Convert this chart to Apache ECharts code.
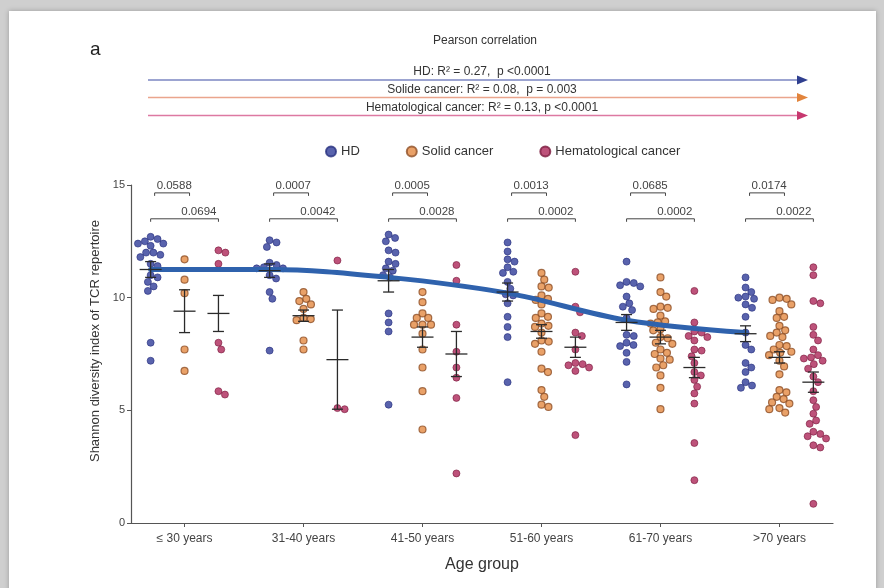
<!DOCTYPE html>
<html><head><meta charset="utf-8">
<script src="https://cdn.jsdelivr.net/npm/echarts@6/dist/echarts.min.js"></script>
<style>
html,body{margin:0;padding:0;background:#cfcfcf;width:884px;height:588px;overflow:hidden;}
#wrap{position:absolute;left:9px;top:11px;width:867px;height:590px;background:#fff;box-shadow:0 0 5px rgba(0,0,0,0.25);}
#chart{position:absolute;left:0;top:0;width:884px;height:588px;}
</style>
</head><body><div id="wrap"></div><div id="chart"></div>
<script>
const categories = ['≤ 30 years','31-40 years','41-50 years','51-60 years','61-70 years','>70 years'];
const seriesNames = ['HD','Solid cancer','Hematological cancer'];

const hdValues = [
 [12.7,12.6,12.5,12.4,12.4,12.3,12.0,12.0,11.9,11.8,11.5,11.4,11.0,10.9,10.7,10.5,10.3,8.0,7.2],
 [12.55,12.45,12.25,11.55,11.45,11.35,11.3,11.3,11.0,10.85,10.25,9.95,7.65],
 [12.8,12.65,12.5,12.1,12.0,11.6,11.5,11.3,11.2,11.0,10.9,9.3,8.9,8.5,5.25],
 [12.45,12.05,11.7,11.6,11.35,11.15,11.1,10.7,10.4,10.15,10.1,9.75,9.15,8.7,8.25,6.25],
 [11.6,10.7,10.65,10.55,10.5,10.05,9.75,9.6,9.45,9.1,8.35,8.3,8.0,7.9,7.85,7.55,7.15,6.15],
 [10.9,10.45,10.25,10.05,10.0,9.95,9.7,9.55,9.15,8.45,7.9,7.7,7.1,6.9,6.7,6.25,6.1,6.0]
];
const solidValues = [
 [11.7,10.8,10.2,7.7,6.75],
 [10.25,9.95,9.85,9.7,9.5,9.1,9.05,9.0,8.1,7.7],
 [10.25,9.8,9.3,9.1,9.1,8.8,8.8,8.8,8.4,7.7,6.9,5.85,4.15],
 [11.1,10.8,10.5,10.45,10.1,9.95,9.9,9.7,9.3,9.15,9.1,8.85,8.75,8.7,8.45,8.1,8.05,7.95,7.6,6.85,6.7,5.9,5.6,5.25,5.15],
 [10.9,10.25,10.05,9.6,9.55,9.5,9.2,8.95,8.9,8.85,8.6,8.55,8.25,8.2,8.0,7.95,7.7,7.55,7.5,7.3,7.25,7.0,6.9,6.55,6.0,5.05],
 [10.0,9.95,9.9,9.7,9.4,9.15,9.1,8.75,8.55,8.45,8.3,8.25,7.9,7.85,7.7,7.6,7.55,7.45,7.2,6.95,6.6,5.9,5.8,5.6,5.5,5.35,5.3,5.1,5.05,4.9]
];
const hemeValues = [
 [12.1,12.0,11.5,8.0,7.7,5.7,5.85],
 [11.65,5.05,5.1],
 [11.45,10.75,8.8,7.6,6.9,6.45,5.55,2.2],
 [11.15,9.6,9.35,8.45,8.3,7.7,7.1,7.05,7.0,6.9,6.75,3.9],
 [10.3,8.9,8.5,8.45,8.3,8.25,8.1,7.7,7.65,7.4,7.1,6.7,6.55,6.35,6.05,5.75,5.3,3.55,1.9],
 [11.35,11.0,9.85,9.75,8.7,8.35,8.1,7.7,7.45,7.35,7.3,7.2,7.05,6.85,6.5,6.25,5.85,5.45,5.15,4.85,4.55,4.4,4.05,3.95,3.85,3.75,3.45,3.35,0.85]
];

const hdMean = [11.25,11.2,10.75,10.25,8.9,8.4];
const hdSem = [0.35,0.3,0.5,0.4,0.35,0.35];
const solidMean = [9.4,9.2,8.25,8.5,8.25,7.35];
const solidSem = [0.95,0.25,0.45,0.3,0.3,0.25];
const hemeMean = [9.3,7.25,7.5,7.8,6.9,6.25];
const hemeSem = [0.8,2.2,1.0,0.45,0.45,0.45];

const hdTrend = [11.25,11.25,10.9,10.2,9.0,8.45];

const pHdSolid = ['0.0588','0.0007','0.0005','0.0013','0.0685','0.0174'];
const pHdHeme = ['0.0694','0.0042','0.0028','0.0002','0.0002','0.0022'];

const corrLabels = ['HD: R² = 0.27,  p <0.0001','Solide cancer: R² = 0.08,  p = 0.003','Hematological cancer: R² = 0.13, p <0.0001'];

// layout
const FONT = '"Liberation Sans", Arial, sans-serif';
const GRID = {left:131, top:185, right:51, bottom:65};
const XMIN = -0.45, XMAX = 5.45, YMIN = 0, YMAX = 15;
const offsets = [-0.285, 0, 0.285];
const pxX = (884 - GRID.left - GRID.right) / (XMAX - XMIN);
const pxY = (588 - GRID.top - GRID.bottom) / (YMAX - YMIN);
const DIAM = 7.3;

function swarm(values, center) {
  const items = values.map(v => ({v})).sort((a,b)=>b.v-a.v);
  const placed = [];
  items.forEach(p => {
    const y = p.v * pxY;
    const cands = [0];
    placed.forEach(q => {
      const dy = Math.abs(q.y - y);
      if (dy < DIAM) {
        const dx = Math.sqrt(DIAM*DIAM - dy*dy);
        cands.push(q.x + dx, q.x - dx);
      }
    });
    cands.sort((a,b)=>Math.abs(a)-Math.abs(b));
    let x = 0;
    for (const c of cands) {
      if (placed.every(q => (q.x-c)*(q.x-c)+(q.y-y)*(q.y-y) >= DIAM*DIAM - 0.01)) { x = c; break; }
    }
    placed.push({x, y});
    p.x = x;
  });
  return items.map(p => [center + p.x / pxX, p.v]);
}

function buildScatter(groups, k) {
  let out = [];
  groups.forEach((vals, i) => { out = out.concat(swarm(vals, i + offsets[k])); });
  return out;
}

const colors = {
  hd: {fill:'#2f3c98', border:'#27307e'},
  solid: {fill:'#e38a42', border:'#8e4f25'},
  heme: {fill:'#ad2759', border:'#7a1a3d'}
};

function errData(means, sems, k) { return means.map((m,i)=>[i+offsets[k], m, sems[i]]); }

function errRender(params, api) {
  const x = api.value(0), m = api.value(1), s = api.value(2);
  const c = api.coord([x, m]), hi = api.coord([x, m+s]), lo = api.coord([x, m-s]);
  const st = {stroke:'#2a2a2a', lineWidth:1.3};
  return {type:'group', children:[
    {type:'line', shape:{x1:c[0], y1:hi[1], x2:c[0], y2:lo[1]}, style:st},
    {type:'line', shape:{x1:c[0]-5.5, y1:hi[1], x2:c[0]+5.5, y2:hi[1]}, style:st},
    {type:'line', shape:{x1:c[0]-5.5, y1:lo[1], x2:c[0]+5.5, y2:lo[1]}, style:st},
    {type:'line', shape:{x1:c[0]-11, y1:c[1], x2:c[0]+11, y2:c[1]}, style:st}
  ]};
}

function bracketRender(params, api) {
  const i = api.value(0);
  const a1 = api.coord([i+offsets[0], 14.65]), b1 = api.coord([i+offsets[1], 14.65]);
  const a2 = api.coord([i+offsets[0], 13.5]), b2 = api.coord([i+offsets[2], 13.5]);
  const st = {stroke:'#444', lineWidth:1, fill:null};
  const ts = {font:'11.5px ' + FONT, fill:'#444', verticalAlign:'bottom'};
  return {type:'group', children:[
    {type:'polyline', shape:{points:[[a1[0]+4,a1[1]+3],[a1[0]+4,a1[1]],[b1[0]+5,b1[1]],[b1[0]+5,b1[1]+3]]}, style:st},
    {type:'polyline', shape:{points:[[a2[0],a2[1]+3],[a2[0],a2[1]],[b2[0],b2[1]],[b2[0],b2[1]+3]]}, style:st},
    {type:'text', style:Object.assign({text:pHdSolid[i], x:a1[0]+6, y:a1[1]-1, align:'left'}, ts)},
    {type:'text', style:Object.assign({text:pHdHeme[i], x:b2[0]-2, y:b2[1]-1, align:'right'}, ts)}
  ]};
}

function arrow(y, lineColor, headColor, label) {
  return [
    {type:'line', shape:{x1:148, y1:y, x2:800, y2:y}, style:{stroke:lineColor, lineWidth:1.4}},
    {type:'polygon', shape:{points:[[797,y-4.5],[808,y],[797,y+4.5]]}, style:{fill:headColor}},
    {type:'text', style:{text:label, x:482, y:y-2, align:'center', verticalAlign:'bottom', font:'12px ' + FONT, fill:'#333'}}
  ];
}

const chart = echarts.init(document.getElementById('chart'), null, {renderer:'canvas'});
const option = {
  backgroundColor:'transparent',
  animation:false,
  textStyle:{fontFamily:FONT},
  grid:GRID,
  legend:{
    data:seriesNames, left:320, top:140, itemWidth:10, itemHeight:10, itemGap:46, icon:'circle',
    textStyle:{fontSize:13, color:'#333', fontFamily:FONT}
  },
  xAxis:{
    type:'value', min:XMIN, max:XMAX,
    name:'Age group', nameLocation:'middle', nameGap:34,
    nameTextStyle:{fontSize:16, color:'#333', fontFamily:FONT},
    axisLine:{show:true, onZero:false, lineStyle:{color:'#555', width:1.2}},
    axisTick:{show:true, length:4, lineStyle:{color:'#555'}, customValues:[0,1,2,3,4,5]},
    axisLabel:{customValues:[0,1,2,3,4,5], formatter:v=>categories[Math.round(v)], fontSize:12, color:'#444', margin:10, fontFamily:FONT},
    splitLine:{show:false}
  },
  yAxis:{
    type:'value', min:YMIN, max:YMAX, interval:5,
    name:'Shannon diversity index of TCR repertoire', nameLocation:'middle', nameGap:28,
    nameTextStyle:{fontSize:13, color:'#333', fontFamily:FONT, padding:[0,0,0,26]},
    axisLine:{show:true, onZero:false, lineStyle:{color:'#555', width:1.2}},
    axisTick:{show:true, length:4, lineStyle:{color:'#555'}},
    axisLabel:{fontSize:11, color:'#444', margin:6, fontFamily:FONT},
    splitLine:{show:false}
  },
  series:[
    {name:'HD', type:'scatter', data:buildScatter(hdValues,0), symbolSize:7, z:2,
      itemStyle:{color:colors.hd.fill, borderColor:colors.hd.border, borderWidth:0.8}},
    {name:'Solid cancer', type:'scatter', data:buildScatter(solidValues,1), symbolSize:7, z:2,
      itemStyle:{color:colors.solid.fill, borderColor:colors.solid.border, borderWidth:1.2}},
    {name:'Hematological cancer', type:'scatter', data:buildScatter(hemeValues,2), symbolSize:7, z:2,
      itemStyle:{color:colors.heme.fill, borderColor:colors.heme.border, borderWidth:0.8}},
    {type:'line', data:hdTrend.map((v,i)=>[i+offsets[0], v]), smooth:0.35, symbol:'none', z:3,
      lineStyle:{color:'#2f62ad', width:5, cap:'round'}},
    {type:'custom', renderItem:errRender, data:errData(hdMean,hdSem,0), z:4},
    {type:'custom', renderItem:errRender, data:errData(solidMean,solidSem,1), z:4},
    {type:'custom', renderItem:errRender, data:errData(hemeMean,hemeSem,2), z:4},
    {type:'custom', renderItem:bracketRender, data:categories.map((c,i)=>[i]), clip:false, z:4}
  ],
  graphic:[
    {type:'text', style:{text:'a', x:90, y:50, verticalAlign:'middle', font:'19px ' + FONT, fill:'#222'}},
    {type:'text', style:{text:'Pearson correlation', x:485, y:41, align:'center', verticalAlign:'middle', font:'12px ' + FONT, fill:'#333'}}
  ].concat(
    arrow(80, '#7b86c2', '#2f3f8f', corrLabels[0]),
    arrow(97.5, '#eaa58d', '#e2843c', corrLabels[1]),
    arrow(115.5, '#dd79a2', '#c7386f', corrLabels[2])
  )
};
chart.setOption(option);
</script>
</body></html>
